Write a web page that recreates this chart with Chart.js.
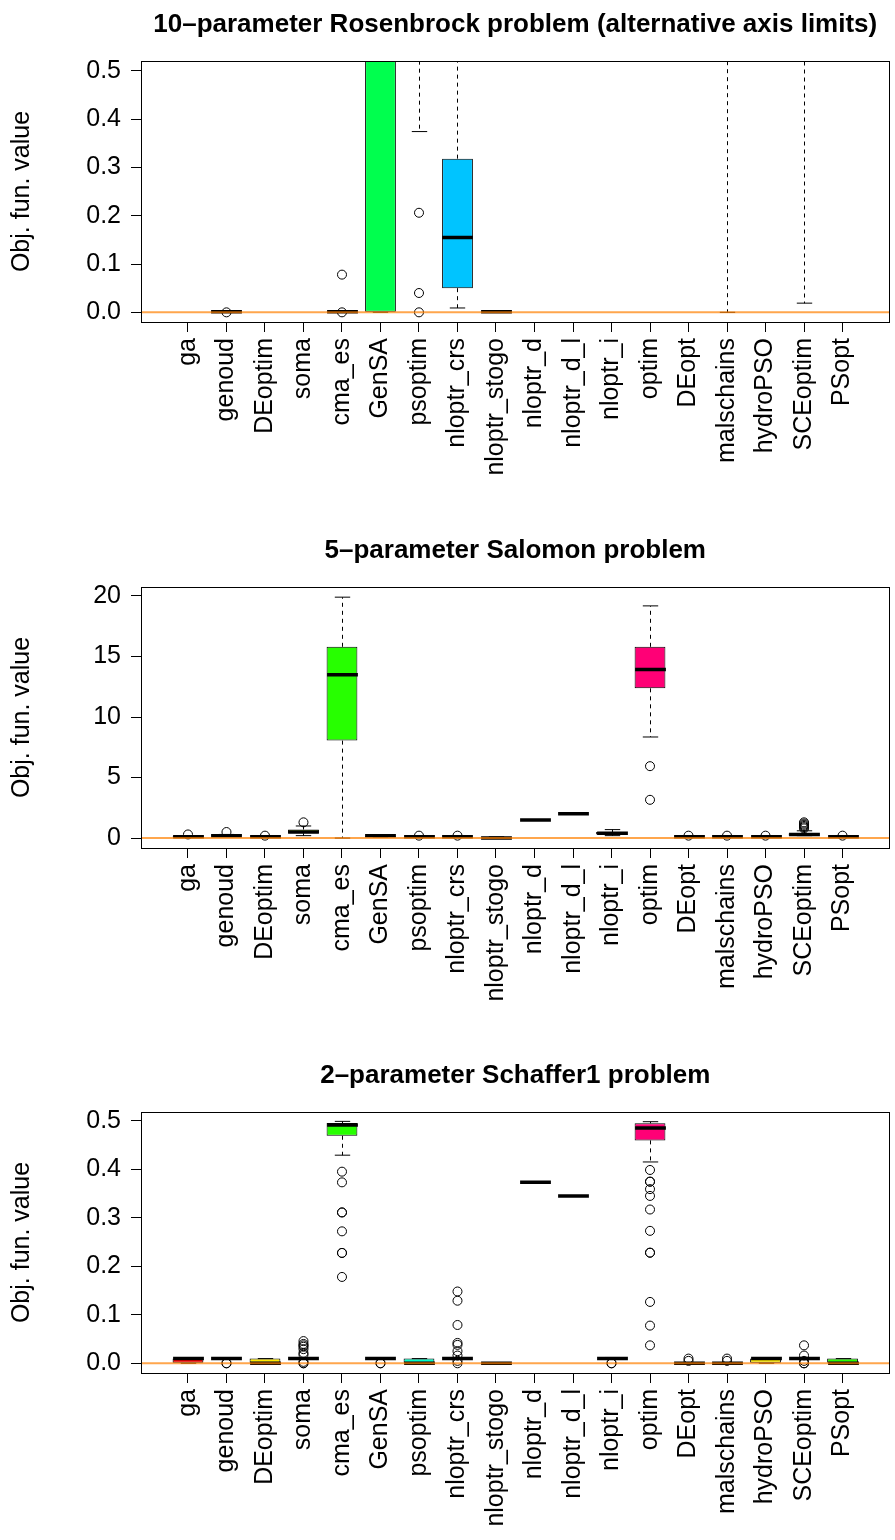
<!DOCTYPE html>
<html>
<head>
<meta charset="utf-8">
<title>Optimiser comparison</title>
<script src="https://cdn.jsdelivr.net/npm/chart.js@4.4.1/dist/chart.umd.min.js"></script>
<style>
  html, body { margin: 0; padding: 0; background: #fff; }
  body { width: 895px; height: 1540px; overflow: hidden; position: relative; }
  .panel { position: absolute; left: 0; width: 895px; height: 526px; }
  .panel canvas { display: block; }
</style>
</head>
<body>
<div class="panel" style="top:0px"><canvas id="ros" width="895" height="526"></canvas></div>
<div class="panel" style="top:526px"><canvas id="sal" width="895" height="526"></canvas></div>
<div class="panel" style="top:1051px"><canvas id="sch" width="895" height="526"></canvas></div>
<script>
(function () {
  "use strict";

  // ---------- shared categories / colours ----------
  var methods = ["ga", "genoud", "DEoptim", "soma", "cma_es", "GenSA", "psoptim",
    "nloptr_crs", "nloptr_stogo", "nloptr_d", "nloptr_d_l", "nloptr_i", "optim",
    "DEopt", "malschains", "hydroPSO", "SCEoptim", "PSopt"];
  // rainbow(13), recycled over the 18 methods
  var boxColours = ["#FF0000", "#FF7600", "#FFEB00", "#9DFF00", "#27FF00", "#00FF4E",
    "#00FFC4", "#00C4FF", "#004EFF", "#2700FF", "#9D00FF", "#FF00EB", "#FF0076",
    "#FF0000", "#FF7600", "#FFEB00", "#9DFF00", "#27FF00"];

  // ---------- 10-parameter Rosenbrock (zoomed to 0..0.5) ----------
  // null = whole box sits above the visible range
  var rosLow  = [null, 0, null, null, 0, 0, 0.374, 0.009, 0, null, null, null, null, null, 0, null, 0.019, null];
  var rosQ1   = [null, 0, null, null, 0, 0, 1.10, 0.050, 0, null, null, null, null, null, 0.95, null, 0.85, null];
  var rosMed  = [null, 0.001, null, null, 0.001, 3.99, 3.99, 0.155, 0.001, null, null, null, null, null, 3.99, null, 3.99, null];
  var rosQ3   = [null, 0.002, null, null, 0.002, 4.50, 5.20, 0.318, 0.002, null, null, null, null, null, 4.40, null, 4.60, null];
  var rosHigh = [null, 0.002, null, null, 0.002, 9.00, 10.4, 0.780, 0.002, null, null, null, null, null, 9.50, null, 9.70, null];
  var rosOut  = [[], [0], [], [], [0, 0.078], [], [0.206, 0.040, 0], [], [], [], [], [], [], [], [], [], [], []];
  var rosTicks = [0, 0.1, 0.2, 0.3, 0.4, 0.5];
  var rosRange = [-0.02, 0.52];

  // ---------- 5-parameter Salomon ----------
  var salLow  = [0.0999, 0.1999, 0.0999, 0.1999, 0.0, 0.0999, 0.0999, 0.0999, 0.0, 1.4999, 1.9999, 0.1999, 8.35, 0.0999, 0.0999, 0.0999, 0.1999, 0.0999];
  var salQ1   = [0.0999, 0.1999, 0.0999, 0.3999, 8.05, 0.0999, 0.0999, 0.0999, 0.0, 1.4999, 1.9999, 0.2999, 12.37, 0.0999, 0.0999, 0.0999, 0.1999, 0.0999];
  var salMed  = [0.0999, 0.1999, 0.0999, 0.4999, 13.50, 0.1999, 0.0999, 0.0999, 0.0, 1.4999, 1.9999, 0.3999, 13.93, 0.0999, 0.0999, 0.0999, 0.2999, 0.0999];
  var salQ3   = [0.1999, 0.2999, 0.0999, 0.6999, 15.80, 0.1999, 0.0999, 0.0999, 0.0999, 1.4999, 1.9999, 0.4999, 15.80, 0.0999, 0.0999, 0.0999, 0.3999, 0.0999];
  var salHigh = [0.1999, 0.2999, 0.0999, 0.9999, 19.90, 0.1999, 0.0999, 0.0999, 0.0999, 1.4999, 1.9999, 0.6999, 19.18, 0.0999, 0.0999, 0.0999, 0.5999, 0.0999];
  var salOut  = [[0.2999], [0.4999], [0.1999], [1.2999], [], [], [0.1999], [0.1999], [], [], [], [],
    [5.94, 3.16], [0.1999], [0.1999], [0.1999], [0.7999, 0.8999, 0.9999, 1.0999, 1.1999, 1.2999], [0.1999]];
  var salTicks = [0, 5, 10, 15, 20];
  var salRange = [-0.82, 20.74];

  // ---------- 2-parameter Schaffer1 ----------
  var schLow  = [0, 0.0097, 0, 0.0097, 0.429, 0.0097, 0, 0.0097, 0, 0.373, 0.345, 0.0097, 0.415, 0, 0, 0, 0.0097, 0];
  var schQ1   = [0, 0.0097, 0, 0.0097, 0.469, 0.0097, 0, 0.0097, 0, 0.373, 0.345, 0.0097, 0.4595, 0, 0, 0, 0.0097, 0];
  var schMed  = [0.0097, 0.0097, 0, 0.0097, 0.491, 0.0097, 0, 0.0097, 0, 0.373, 0.345, 0.0097, 0.485, 0, 0, 0.0097, 0.0097, 0];
  var schQ3   = [0.0097, 0.0097, 0.0097, 0.0097, 0.4954, 0.0097, 0.0097, 0.0097, 0, 0.373, 0.345, 0.0097, 0.4946, 0, 0, 0.0097, 0.0097, 0.0097];
  var schHigh = [0.0097, 0.0097, 0.0097, 0.0097, 0.4987, 0.0097, 0.0097, 0.0097, 0, 0.373, 0.345, 0.012, 0.498, 0, 0, 0.0097, 0.0097, 0.0097];
  var schOut  = [[], [0, 0], [], [0, 0, 0.0029, 0.0175, 0.0214, 0.0292, 0.0341, 0.037, 0.0399, 0.0458],
    [0.395, 0.373, 0.311, 0.311, 0.272, 0.2275, 0.2275, 0.178], [0, 0], [],
    [0.148, 0.129, 0.079, 0.042, 0.038, 0.025, 0.016, 0.005, 0], [], [], [], [0, 0],
    [0.3985, 0.3744, 0.3744, 0.359, 0.345, 0.317, 0.273, 0.228, 0.228, 0.1265, 0.0777, 0.037],
    [0.0097, 0.005], [0.0097, 0.005], [], [0.037, 0.016, 0.005, 0, 0], []];
  var schTicks = [0, 0.1, 0.2, 0.3, 0.4, 0.5];
  var schRange = [-0.02, 0.518];

  // x runs from 0.5 - 4% to 18.5 + 4%, like a base-graphics boxplot
  var xRange = [-0.22, 19.22];

  Chart.defaults.font.family = "'Liberation Sans', Arial, Helvetica, sans-serif";
  Chart.defaults.color = "#000";

  // ---------- whiskers, staples and medians ----------
  var boxMarks = {
    id: "boxMarks",
    afterDatasetDraw: function (chart, args) {
      var ds = chart.data.datasets[args.index];
      if (!ds.boxStats) return;
      var st = ds.boxStats;
      var ctx = chart.ctx;
      var xs = chart.scales.x, ys = chart.scales.y, a = chart.chartArea;
      var half = (xs.getPixelForValue(2) - xs.getPixelForValue(1)) * 0.4;

      function seg(x0, y0, x1, y1) {
        ctx.beginPath();
        ctx.moveTo(x0, y0);
        ctx.lineTo(x1, y1);
        ctx.stroke();
      }

      ctx.save();
      ctx.beginPath();
      ctx.rect(a.left, a.top, a.right - a.left, a.bottom - a.top);
      ctx.clip();
      ctx.strokeStyle = "#000";
      st.q1.forEach(function (q1, i) {
        if (q1 == null) return;
        var cx = Math.round(xs.getPixelForValue(i + 1)) + 0.5;
        var pLow = ys.getPixelForValue(st.low[i]);
        var pQ1 = ys.getPixelForValue(q1);
        var pMed = ys.getPixelForValue(st.med[i]);
        var pQ3 = ys.getPixelForValue(st.q3[i]);
        var pHigh = ys.getPixelForValue(st.high[i]);

        ctx.lineWidth = 1;
        ctx.setLineDash([4, 4]);
        if (pHigh < pQ3) seg(cx, pQ3, cx, pHigh);
        if (pLow > pQ1) seg(cx, pQ1, cx, pLow);
        ctx.setLineDash([]);
        seg(cx - half / 2, pHigh, cx + half / 2, pHigh);
        seg(cx - half / 2, pLow, cx + half / 2, pLow);

        ctx.lineWidth = 3.5;
        seg(cx - half, pMed, cx + half, pMed);
      });
      ctx.restore();
    }
  };

  // ---------- zero reference line + plot frame ----------
  var frameAndZero = {
    id: "frameAndZero",
    afterDatasetsDraw: function (chart) {
      var ctx = chart.ctx, a = chart.chartArea;
      var y0 = chart.scales.y.getPixelForValue(0);
      ctx.save();
      ctx.strokeStyle = "rgba(255,128,0,0.7)";
      ctx.lineWidth = 2;
      ctx.beginPath();
      ctx.moveTo(a.left, y0);
      ctx.lineTo(a.right, y0);
      ctx.stroke();
      ctx.restore();
    },
    afterDraw: function (chart) {
      var ctx = chart.ctx, a = chart.chartArea;
      ctx.save();
      ctx.strokeStyle = "#000";
      ctx.lineWidth = 1;
      ctx.strokeRect(Math.round(a.left) + 0.5, Math.round(a.top) + 0.5,
        Math.round(a.right - a.left) - 1, Math.round(a.bottom - a.top));
      ctx.restore();
    }
  };

  function buildPanel(canvasId, title, low, q1, med, q3, high, outliers, yTicks, yRange, decimals) {
    var boxes = [];
    var colours = [];
    q1.forEach(function (v, i) {
      if (v == null) return;
      boxes.push({ x: i + 1, y: [v, q3[i]] });
      colours.push(boxColours[i]);
    });
    var points = [];
    outliers.forEach(function (list, i) {
      list.forEach(function (v) { points.push({ x: i + 1, y: v }); });
    });

    return new Chart(document.getElementById(canvasId).getContext("2d"), {
      type: "bar",
      data: {
        datasets: [
          {
            data: boxes,
            backgroundColor: colours,
            borderColor: "#000",
            borderWidth: 1,
            borderSkipped: false,
            barPercentage: 0.8,
            categoryPercentage: 1,
            order: 1,
            boxStats: { low: low, q1: q1, med: med, q3: q3, high: high }
          },
          {
            type: "scatter",
            data: points,
            pointStyle: "circle",
            pointRadius: 4.5,
            pointBorderWidth: 1,
            pointBackgroundColor: "rgba(0,0,0,0)",
            pointBorderColor: "#000",
            order: 0
          }
        ]
      },
      options: {
        responsive: false,
        devicePixelRatio: 1,
        animation: false,
        events: [],
        layout: { padding: { left: 0, right: 2, top: 0, bottom: 0 } },
        plugins: {
          legend: { display: false },
          tooltip: { enabled: false },
          title: {
            display: true,
            text: title,
            fullSize: false,
            font: { size: 26, weight: "bold", lineHeight: 1.2 },
            color: "#000",
            padding: { top: 9, bottom: 20.8 }
          }
        },
        scales: {
          x: {
            type: "linear",
            offset: false,
            min: xRange[0],
            max: xRange[1],
            afterBuildTicks: function (scale) {
              scale.ticks = methods.map(function (m, i) { return { value: i + 1 }; });
            },
            afterFit: function (scale) { scale.height = 204; },
            ticks: {
              autoSkip: false,
              minRotation: 90,
              maxRotation: 90,
              padding: 6,
              font: { size: 25 },
              color: "#000",
              callback: function (v) { return methods[v - 1]; }
            },
            grid: { offset: false, drawOnChartArea: false, drawTicks: true, tickLength: 10, color: "#000", lineWidth: 1 },
            border: { display: false }
          },
          y: {
            type: "linear",
            min: yRange[0],
            max: yRange[1],
            afterBuildTicks: function (scale) {
              scale.ticks = yTicks.map(function (v) { return { value: v }; });
            },
            afterFit: function (scale) { scale.width = 141; },
            ticks: {
              padding: 10,
              font: { size: 25 },
              color: "#000",
              callback: function (v) { return v.toFixed(decimals); }
            },
            title: {
              display: true,
              text: "Obj. fun. value",
              font: { size: 25, lineHeight: 1.2 },
              color: "#000",
              padding: { top: 7, bottom: 0 }
            },
            grid: { drawOnChartArea: false, drawTicks: true, tickLength: 10, color: "#000", lineWidth: 1 },
            border: { display: false }
          }
        }
      },
      plugins: [boxMarks, frameAndZero]
    });
  }

  buildPanel("ros", "10\u2013parameter Rosenbrock problem (alternative axis limits)",
    rosLow, rosQ1, rosMed, rosQ3, rosHigh, rosOut, rosTicks, rosRange, 1);
  buildPanel("sal", "5\u2013parameter Salomon problem",
    salLow, salQ1, salMed, salQ3, salHigh, salOut, salTicks, salRange, 0);
  buildPanel("sch", "2\u2013parameter Schaffer1 problem",
    schLow, schQ1, schMed, schQ3, schHigh, schOut, schTicks, schRange, 1);
})();
</script>
</body>
</html>
